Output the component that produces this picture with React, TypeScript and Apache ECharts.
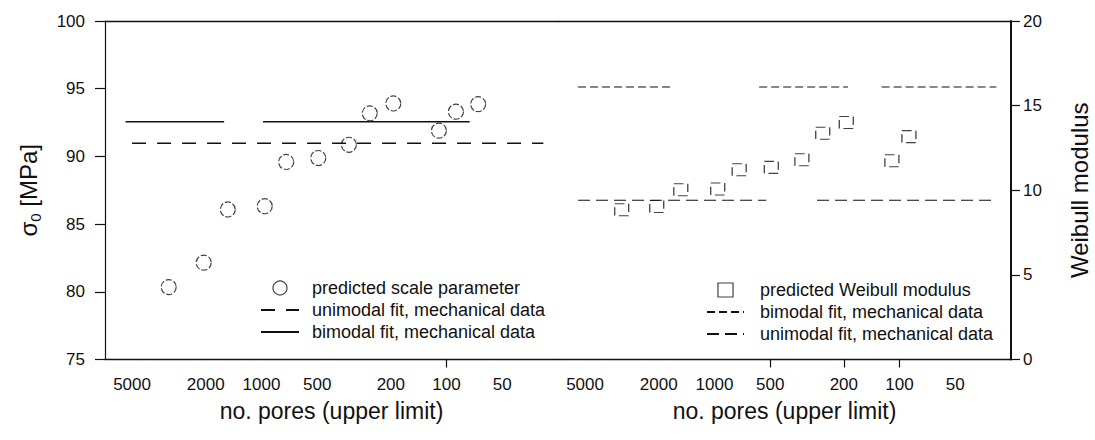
import React, { useEffect, useRef } from "react";
import * as echarts from "echarts";

// ---- data ----
const poreLimits = [3170, 2050, 1520, 960, 735, 493, 337, 260, 194, 110, 89, 67.5];
const scaleParameter = [80.35, 82.15, 86.08, 86.32, 89.59, 89.88, 90.86, 93.18, 93.91, 91.9, 93.3, 93.86];
const weibullModulus = [8.85, 9.04, 10.03, 10.07, 11.21, 11.35, 11.8, 13.37, 14.0, 11.74, 13.17];
const poreTickLabels = [5000, 2000, 1000, 500, 200, 100, 50];
const leftPoreTicks = [100];
const rightPoreTicks = [500, 200, 100];
const sigmaUnimodal = 90.97;
const sigmaBimodal = 92.56;
const weibullUnimodal = 9.41;
const weibullBimodal = 16.1;
// visible stretches of the fit lines, [from, to] in no. pores
const sigmaUnimodalSpans = [[5000, 30]];
const sigmaBimodalSpans = [[5420, 1590], [980, 75]];
const weibullBimodalSpans = [[5455, 1682], [573, 190], [125, 30]];
const weibullUnimodalSpans = [[5455, 525], [279, 30]];

const LEFT_NAMES = [
  "predicted scale parameter",
  "unimodal fit, mechanical data",
  "bimodal fit, mechanical data",
];
const RIGHT_NAMES = [
  "predicted Weibull modulus",
  "W: bimodal fit, mechanical data",
  "W: unimodal fit, mechanical data",
];

const FONT = "'Liberation Sans', Arial, Helvetica, sans-serif";
const INK = "#111";
const CLEAR = "rgba(0,0,0,0)";
const HIDE_SYMBOL = { color: CLEAR, borderColor: CLEAR, borderWidth: 0 };

function spansToLine(spans: number[][], v: number) {
  const out: any[] = [];
  spans.forEach((s, i) => {
    if (i > 0) out.push([s[0], "-"]);
    out.push([s[0], v]);
    out.push([s[1], v]);
  });
  return out;
}

function xAxisFor(grid: number, ticks: number[]) {
  return {
    gridIndex: grid,
    type: "log",
    inverse: true,
    min: 25,
    max: 7000,
    position: "bottom",
    axisLine: { show: true, lineStyle: { color: INK, width: 1.3 } },
    axisTick: { show: true, inside: false, length: 8, customValues: ticks, lineStyle: { color: INK, width: 1.2 } },
    axisLabel: {
      customValues: poreTickLabels,
      margin: 16,
      fontSize: 17,
      color: INK,
      fontFamily: FONT,
      formatter: (v: number) => String(Math.round(v)),
    },
    minorTick: { show: false },
    splitLine: { show: false },
    name: "no. pores (upper limit)",
    nameLocation: "middle",
    nameGap: 40,
    nameTextStyle: { fontSize: 23, color: INK, fontFamily: FONT },
  };
}

function topAxisFor(grid: number) {
  return {
    gridIndex: grid,
    type: "log",
    inverse: true,
    min: 25,
    max: 7000,
    position: "top",
    axisLine: { show: true, lineStyle: { color: INK, width: 1.3 } },
    axisTick: { show: false },
    axisLabel: { show: false },
    splitLine: { show: false },
  };
}

export default function App() {
  const ref = useRef<HTMLDivElement>(null);
  useEffect(() => {
    const chart = echarts.init(ref.current!, null, { renderer: "svg" });
    const legendText = {
      fontSize: 18,
      lineHeight: 18,
      color: INK,
      fontFamily: FONT,
    };
    const option: any = {
      animation: false,
      backgroundColor: "#fff",
      textStyle: { fontFamily: FONT },
      grid: [
        { left: 105, top: 21, width: 453, height: 338.5 },
        { left: 558, top: 21, width: 453, height: 338.5 },
      ],
      xAxis: [xAxisFor(0, leftPoreTicks), xAxisFor(1, rightPoreTicks), topAxisFor(0), topAxisFor(1)],
      yAxis: [
        {
          gridIndex: 0,
          type: "value",
          min: 75,
          max: 100,
          interval: 5,
          position: "left",
          axisLine: { show: true, lineStyle: { color: INK, width: 1.2 } },
          axisTick: { show: true, length: 10, lineStyle: { color: INK, width: 1.2 } },
          axisLabel: { margin: 20, fontSize: 17, color: INK, fontFamily: FONT },
          splitLine: { show: false },
          name: "{a|σ}{b|0}{a| [MPa]}",
          nameLocation: "middle",
          nameGap: 62,
          nameTextStyle: {
            color: INK,
            fontFamily: FONT,
            rich: {
              a: { fontSize: 24, color: INK, fontFamily: FONT, lineHeight: 30 },
              b: { fontSize: 15, color: INK, fontFamily: FONT, verticalAlign: "bottom", lineHeight: 30 },
            },
          },
        },
        {
          gridIndex: 1,
          type: "value",
          min: 0,
          max: 20,
          interval: 5,
          position: "right",
          axisLine: { show: true, lineStyle: { color: INK, width: 2 } },
          axisTick: { show: true, length: 9, lineStyle: { color: INK, width: 1.2 } },
          axisLabel: { margin: 12, fontSize: 17, color: INK, fontFamily: FONT },
          splitLine: { show: false },
          name: "Weibull modulus",
          nameLocation: "middle",
          nameGap: 56,
          nameTextStyle: { fontSize: 24, color: INK, fontFamily: FONT },
        },
      ],
      legend: [
        {
          data: [
            { name: LEFT_NAMES[0] },
            { name: LEFT_NAMES[1], itemStyle: HIDE_SYMBOL },
            { name: LEFT_NAMES[2], itemStyle: HIDE_SYMBOL },
          ],
          orient: "vertical",
          left: 260,
          top: 279,
          padding: 0,
          itemWidth: 38,
          itemHeight: 14,
          itemGap: 4,
          selectedMode: false,
          itemStyle: { borderWidth: 1.2 },
          textStyle: { ...legendText, padding: [0, 0, 0, 8] },
        },
        {
          data: [
            { name: RIGHT_NAMES[0], icon: "path://M0,0L14,0L14,13L0,13Z" },
            { name: RIGHT_NAMES[1], itemStyle: HIDE_SYMBOL },
            { name: RIGHT_NAMES[2], itemStyle: HIDE_SYMBOL },
          ],
          orient: "vertical",
          left: 706,
          top: 281,
          padding: 0,
          itemWidth: 37,
          itemHeight: 14,
          itemGap: 4,
          selectedMode: false,
          itemStyle: { borderWidth: 1.2 },
          textStyle: { ...legendText, padding: [0, 0, 0, 11] },
          formatter: (name: string) => name.replace(/^W: /, ""),
        },
      ],
      series: [
        {
          name: LEFT_NAMES[0],
          type: "scatter",
          xAxisIndex: 0,
          yAxisIndex: 0,
          symbol: "circle",
          symbolSize: 15,
          itemStyle: { color: CLEAR, borderColor: INK, borderWidth: 1.2, borderType: [6, 2] },
          data: poreLimits.map((n, i) => [n, scaleParameter[i]]),
        },
        {
          name: LEFT_NAMES[1],
          type: "line",
          xAxisIndex: 0,
          yAxisIndex: 0,
          symbol: "none",
          connectNulls: false,
          lineStyle: { color: INK, width: 1.3, type: [14, 11] },
          itemStyle: { color: INK },
          data: spansToLine(sigmaUnimodalSpans, sigmaUnimodal),
        },
        {
          name: LEFT_NAMES[2],
          type: "line",
          xAxisIndex: 0,
          yAxisIndex: 0,
          symbol: "none",
          connectNulls: false,
          lineStyle: { color: INK, width: 1.3, type: "solid" },
          itemStyle: { color: INK },
          data: spansToLine(sigmaBimodalSpans, sigmaBimodal),
        },
        {
          name: RIGHT_NAMES[0],
          type: "scatter",
          xAxisIndex: 1,
          yAxisIndex: 1,
          symbol: "rect",
          symbolSize: [14, 12],
          itemStyle: { color: CLEAR, borderColor: INK, borderWidth: 1.2, borderType: [9, 4] },
          data: weibullModulus.map((w, i) => [poreLimits[i], w]),
        },
        {
          name: RIGHT_NAMES[1],
          type: "line",
          xAxisIndex: 1,
          yAxisIndex: 1,
          symbol: "none",
          connectNulls: false,
          lineStyle: { color: INK, width: 1.2, type: [8, 4] },
          itemStyle: { color: INK },
          data: spansToLine(weibullBimodalSpans, weibullBimodal),
        },
        {
          name: RIGHT_NAMES[2],
          type: "line",
          xAxisIndex: 1,
          yAxisIndex: 1,
          symbol: "none",
          connectNulls: false,
          lineStyle: { color: INK, width: 1.2, type: [12, 6] },
          itemStyle: { color: INK },
          data: spansToLine(weibullUnimodalSpans, weibullUnimodal),
        },
      ],
    };
    chart.setOption(option);
    return () => chart.dispose();
  }, []);
  return (
    <div
      ref={ref}
      style={{ position: "absolute", left: 0, top: 0, width: 1095, height: 440, background: "#fff" }}
    />
  );
}
